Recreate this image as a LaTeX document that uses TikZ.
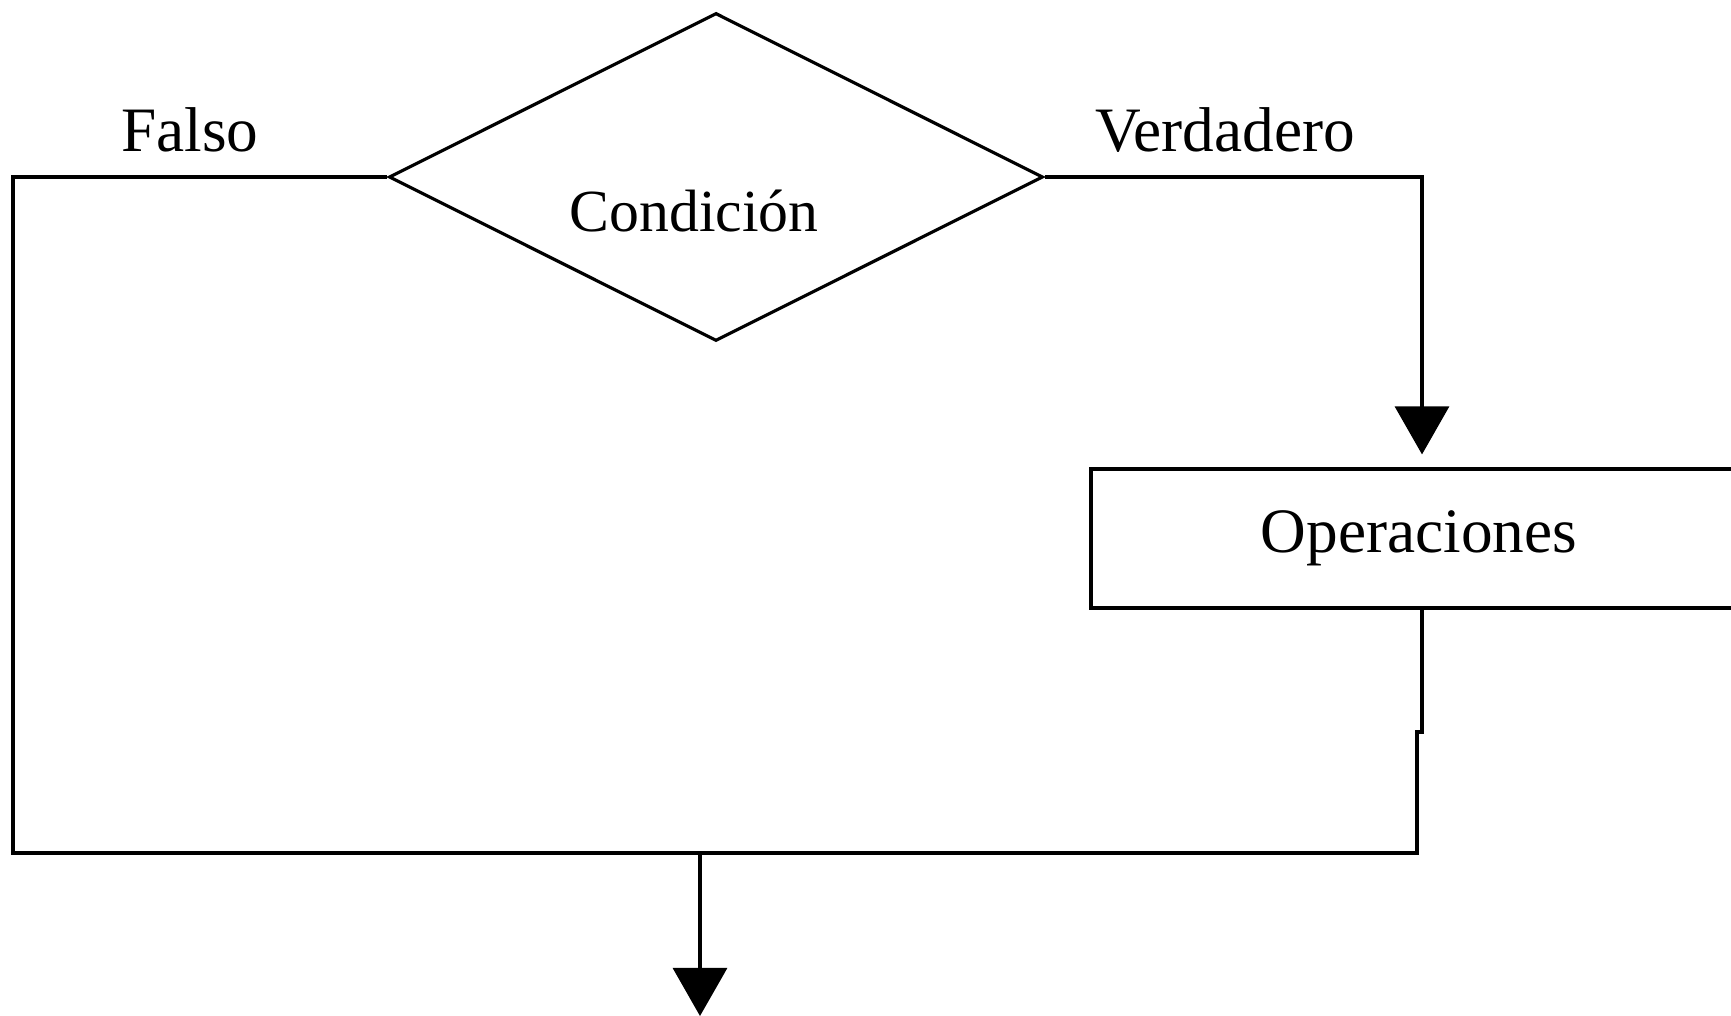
\documentclass[tikz,border=0pt]{standalone}
\usepackage{fontspec}
\setmainfont{Liberation Serif}
\usetikzlibrary{shapes.geometric,arrows.meta,calc}
\tikzset{
  flecha/.style={-{Triangle[width=0.54cm,length=0.48cm]}},
  linea/.style={line width=0.9pt}
}
\begin{document}
\begin{tikzpicture}[font=\fontsize{18}{21}\selectfont]
	\useasboundingbox (0,0) rectangle (17.31,10.16);
	\node[diamond,draw,linea,minimum width=6.54cm,minimum height=3.28cm,inner sep=0pt] (cond) at (7.16,8.39) {};
	\node[anchor=base,font=\fontsize{17}{20}\selectfont] (condtxt) at ($(cond)+(-0.22,-0.55)$) {Condición};
	\node[draw,linea,minimum width=6.56cm,minimum height=1.39cm,inner sep=0pt] (ops) at (14.19,4.775) {Operaciones};
	\node[anchor=base] (falso) at (1.90,8.64) {Falso};
	\node[anchor=base] (verdad) at (12.25,8.64) {Verdadero};
	\coordinate (der) at (14.22,8.39);
	\coordinate (izq) at (0.13,8.39);
	\coordinate (abizq) at (0.13,1.63);
	\coordinate (abder) at (14.17,1.63);
	\coordinate (junta) at (7.00,1.63);
	\coordinate (fin) at (7.00,0);
	\draw[linea,flecha,shorten >=0.13cm] (cond.east) -- (der) -- (der |- ops.north);
	\draw[linea] (cond.west) -- (izq) -- (abizq) -- (abder) -- (14.17,2.84) -- (14.22,2.84) -- (ops.south -| der);
	\draw[linea,flecha] (junta) -- (fin);
\end{tikzpicture}
\end{document}
